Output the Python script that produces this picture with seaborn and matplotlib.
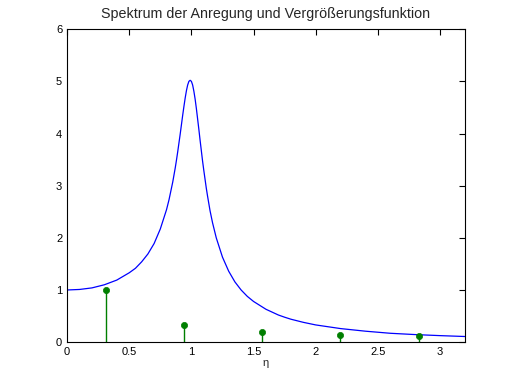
import matplotlib
matplotlib.use("Agg")
import matplotlib.pyplot as plt
import seaborn as sns
import pandas as pd

eta = [0.0, 0.1, 0.2, 0.3, 0.4, 0.5, 0.55, 0.6, 0.65, 0.7, 0.75, 0.8, 0.82, 0.85, 0.87, 0.88, 0.89,
       0.9, 0.91, 0.92, 0.93, 0.94, 0.95, 0.96, 0.97, 0.98, 0.99,
       1.0, 1.01, 1.02, 1.03, 1.04, 1.05, 1.06, 1.07, 1.08, 1.09, 1.1, 1.12, 1.13, 1.15, 1.17,
       1.2, 1.25, 1.3, 1.35, 1.4, 1.45, 1.5, 1.6, 1.7, 1.75, 1.8,
       1.9, 2.0, 2.2, 2.4, 2.6, 2.8, 3.0, 3.2]
V = [1.0, 1.01, 1.04, 1.10, 1.19, 1.33, 1.416, 1.54, 1.69, 1.89, 2.17, 2.54, 2.73, 3.07, 3.34, 3.49, 3.65,
     3.82, 3.99, 4.17, 4.35, 4.52, 4.68, 4.82, 4.93, 5.0, 5.02,
     5.0, 4.93, 4.81, 4.66, 4.48, 4.28, 4.08, 3.87, 3.67, 3.47, 3.29, 2.95, 2.80, 2.52, 2.29,
     2.0, 1.63, 1.36, 1.155, 1.0, 0.877, 0.78, 0.63, 0.52, 0.478, 0.44,
     0.38, 0.33, 0.26, 0.21, 0.17, 0.145, 0.125, 0.108]

stem_x = [0.314, 0.942, 1.571, 2.199, 2.827]
stem_y = [1.0, 0.333, 0.2, 0.143, 0.111]

xticks = [0, 0.5, 1, 1.5, 2, 2.5, 3]
xticklabels = ["0", "0.5", "1", "1.5", "2", "2.5", "3"]
yticks = [0, 1, 2, 3, 4, 5, 6]

sns.set_style("white")
plt.rcParams['font.family'] = ['Liberation Sans', 'DejaVu Sans']

fig = plt.figure(figsize=(5.12, 3.84), dpi=100)
ax = fig.add_axes([0.131, 0.109, 0.777, 0.815])

df = pd.DataFrame({"eta": eta, "V": V})
sns.lineplot(data=df, x="eta", y="V", ax=ax, color="blue", linewidth=0.9)

ax.vlines(stem_x, 0, stem_y, colors="#007f00", linewidth=1.0)
sns.scatterplot(x=stem_x, y=stem_y, ax=ax, color="#007f00", s=20, edgecolor="#007f00", linewidth=0.5, zorder=5)

ax.set_xlim(0, 3.2)
ax.set_ylim(0, 6)
ax.set_xticks(xticks)
ax.set_xticklabels(xticklabels)
ax.set_yticks(yticks)
ax.tick_params(direction="in", length=4, width=0.8, labelsize=8, top=True, right=True, colors="black")
for s in ax.spines.values():
    s.set_visible(True)
    s.set_color("black")
    s.set_linewidth(0.8)
ax.set_xlabel("η", fontsize=8, labelpad=1)
ax.set_ylabel("")
ax.set_title("Spektrum der Anregung und Vergrößerungsfunktion", fontsize=10.3, pad=8)

fig.savefig("out.png", dpi=100, facecolor="white")
